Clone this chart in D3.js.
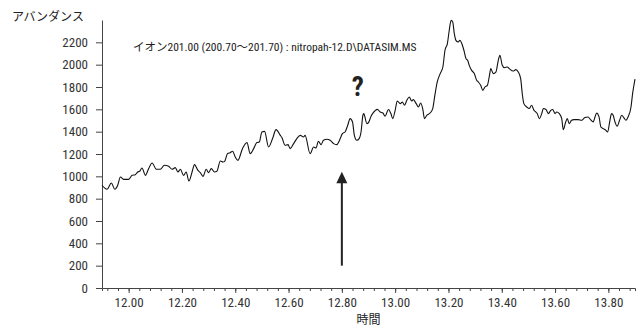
<!DOCTYPE html>
<html>

<head>
    <title>IonChromatogram</title>
    <script src="https://d3js.org/d3.v7.min.js"></script>
    <meta http-equiv="Content-Type" content="text/html; charset=utf-8">
    <style>
        body {
            margin: 0;
            background: #fff;
        }

        .tick text {
            font-family: "Roboto Condensed", "DejaVu Sans Condensed", "Liberation Sans Narrow", "Noto Sans CJK JP", sans-serif;
            font-stretch: condensed;
            font-size: 13px;
            fill: #333;
        }

        .axis path,
        .axis line {
            stroke: #444;
        }

        .jp {
            font-family: "Roboto Condensed", "DejaVu Sans Condensed", "Liberation Sans Narrow", "Noto Sans CJK JP", sans-serif;
            font-stretch: condensed;
            fill: #222;
        }
    </style>
</head>

<body>
    <svg></svg>
    <script>
        // data
        const scanTime = [
            11.900, 11.919, 11.935, 11.948, 11.959, 11.969, 11.981, 12.000, 12.013, 12.025,
            12.034, 12.041, 12.050, 12.063, 12.075, 12.088, 12.104, 12.119, 12.134, 12.150,
            12.163, 12.175, 12.185, 12.194, 12.206, 12.216, 12.226, 12.238, 12.247, 12.260,
            12.269, 12.279, 12.291, 12.300, 12.310, 12.322, 12.331, 12.344, 12.354, 12.360,
            12.371, 12.381, 12.390, 12.400, 12.410, 12.427, 12.444, 12.456, 12.469, 12.481,
            12.490, 12.500, 12.510, 12.525, 12.540, 12.553, 12.569, 12.575, 12.587, 12.598,
            12.606, 12.619, 12.631, 12.644, 12.656, 12.662, 12.681, 12.694, 12.703, 12.712,
            12.722, 12.731, 12.744, 12.756, 12.769, 12.781, 12.794, 12.802, 12.812, 12.822,
            12.831, 12.840, 12.847, 12.856, 12.865, 12.872, 12.879, 12.882, 12.894, 12.900,
            12.910, 12.918, 12.933, 12.944, 12.954, 12.962, 12.975, 12.984, 12.991, 13.000,
            13.008, 13.019, 13.027, 13.035, 13.044, 13.053, 13.062, 13.068, 13.079, 13.087,
            13.096, 13.104, 13.110, 13.119, 13.131, 13.141, 13.150, 13.158, 13.169, 13.179,
            13.187, 13.196, 13.203, 13.210, 13.216, 13.222, 13.228, 13.237, 13.243, 13.250,
            13.258, 13.266, 13.272, 13.278, 13.287, 13.297, 13.306, 13.312, 13.321, 13.329,
            13.337, 13.346, 13.353, 13.359, 13.368, 13.378, 13.387, 13.393, 13.402, 13.410,
            13.421, 13.428, 13.443, 13.453, 13.462, 13.471, 13.477, 13.483, 13.494, 13.503,
            13.512, 13.521, 13.528, 13.533, 13.541, 13.550, 13.556, 13.566, 13.575, 13.584,
            13.591, 13.600, 13.606, 13.616, 13.625, 13.631, 13.640, 13.646, 13.653, 13.662,
            13.671, 13.687, 13.700, 13.712, 13.724, 13.733, 13.743, 13.750, 13.756, 13.765,
            13.772, 13.781, 13.791, 13.797, 13.806, 13.812, 13.818, 13.825, 13.833, 13.843,
            13.850, 13.858, 13.866, 13.874, 13.885, 13.891, 13.897, 13.900
        ];
        const abundance = [
            920, 884, 940, 884, 920, 994, 973, 973, 1009, 1015,
            1039, 1045, 1075, 1009, 1069, 1120, 1063, 1063, 1099, 1090,
            1063, 1078, 1039, 1063, 1009, 1039, 958, 1039, 1105, 1054,
            1033, 1000, 1063, 1033, 1069, 1039, 1045, 1137, 1128, 1134,
            1203, 1212, 1224, 1173, 1143, 1248, 1302, 1203, 1248, 1302,
            1307, 1397, 1403, 1263, 1338, 1418, 1367, 1347, 1278, 1284,
            1248, 1293, 1338, 1367, 1352, 1367, 1203, 1263, 1254, 1314,
            1284, 1323, 1332, 1323, 1293, 1284, 1338, 1383, 1397, 1457,
            1517, 1487, 1367, 1323, 1338, 1397, 1547, 1562, 1472, 1481,
            1540, 1570, 1600, 1576, 1567, 1538, 1598, 1562, 1517, 1591,
            1675, 1651, 1666, 1636, 1681, 1711, 1675, 1687, 1651, 1621,
            1657, 1598, 1517, 1547, 1567, 1607, 1741, 1845, 1920, 1979,
            2129, 2189, 2308, 2397, 2382, 2278, 2218, 2203, 2218, 2189,
            2129, 2054, 2039, 1994, 1949, 1920, 1860, 1845, 1815, 1770,
            1800, 1815, 1890, 1965, 1920, 1934, 2039, 2084, 1994, 1973,
            1979, 1965, 1943, 1956, 1934, 1875, 1741, 1651, 1621, 1607,
            1636, 1591, 1576, 1562, 1517, 1562, 1607, 1598, 1562, 1591,
            1598, 1562, 1576, 1562, 1517, 1418, 1487, 1517, 1472, 1502,
            1508, 1508, 1502, 1526, 1532, 1508, 1487, 1532, 1567, 1532,
            1442, 1427, 1412, 1397, 1502, 1562, 1547, 1487, 1448, 1508,
            1547, 1526, 1502, 1532, 1621, 1741, 1830, 1870
        ];
        const xTicks = [12.0, 12.2, 12.4, 12.6, 12.8, 13.0, 13.2, 13.4, 13.6, 13.8];
        const xMinorTicks = d3.range(0, 50).map(i => +(11.92 + i * 0.04).toFixed(2));
        const yTicks = [0, 200, 400, 600, 800, 1000, 1200, 1400, 1600, 1800, 2000, 2200];
        const titleText = "イオン201.00 (200.70～201.70) : nitropah-12.D\\DATASIM.MS";
        const yLabel = "アバンダンス";
        const xLabel = "時間";
        // arrow marks 12.80 min, from 200 up to 1040
        const arrowAt = { t: 12.80, from: 200, to: 1040 };
        const questionAt = { t: 12.86, v: 1720 };

        // set the dimensions and margins
        const width = 644;
        const height = 329;
        const margin = {
            top: 20,
            right: 9,
            bottom: 41,
            left: 102
        };

        const svg = d3.select("svg")
            .attr("width", width)
            .attr("height", height);

        const data = scanTime.map((t, i) => ({ t: t, v: abundance[i] }));

        // scales
        const xScale = d3.scaleLinear()
            .domain([11.9, 13.9])
            .range([margin.left, width - margin.right]);
        const yScale = d3.scaleLinear()
            .domain([0, 2400])
            .range([height - margin.bottom, margin.top]);

        // minor ticks on x axis
        svg.append("g")
            .attr("class", "axis")
            .attr("transform", "translate(0," + (height - margin.bottom) + ")")
            .call(d3.axisBottom(xScale).tickValues(xMinorTicks).tickSize(3).tickFormat(""))
            .select(".domain").remove();

        // major x axis
        svg.append("g")
            .attr("class", "axis")
            .attr("transform", "translate(0," + (height - margin.bottom) + ")")
            .call(d3.axisBottom(xScale)
                .tickValues(xTicks)
                .tickSize(5)
                .tickSizeOuter(3)
                .tickPadding(5)
                .tickFormat(d3.format(".2f")));

        // y axis
        svg.append("g")
            .attr("class", "axis")
            .attr("transform", "translate(" + margin.left + ",0)")
            .call(d3.axisLeft(yScale)
                .tickValues(yTicks)
                .tickSize(6)
                .tickSizeOuter(0)
                .tickPadding(8)
                .tickFormat(d3.format("d")));

        // the chromatogram trace
        const line = d3.line()
            .x(d => xScale(d.t))
            .y(d => yScale(d.v))
            .curve(d3.curveMonotoneX);

        svg.append("path")
            .datum(data)
            .attr("fill", "none")
            .attr("stroke", "#111")
            .attr("stroke-width", 1.1)
            .attr("d", line);

        // arrow
        const ax = xScale(arrowAt.t);
        const tipY = yScale(arrowAt.to);
        svg.append("line")
            .attr("x1", ax)
            .attr("x2", ax)
            .attr("y1", yScale(arrowAt.from))
            .attr("y2", tipY + 10)
            .attr("stroke", "#222")
            .attr("stroke-width", 2);
        svg.append("path")
            .attr("d", `M${ax},${tipY} L${ax - 5.5},${tipY + 11.5} L${ax + 5.5},${tipY + 11.5} Z`)
            .attr("fill", "#222");

        // question mark
        svg.append("text")
            .attr("class", "jp")
            .attr("x", xScale(questionAt.t))
            .attr("y", yScale(questionAt.v))
            .attr("text-anchor", "middle")
            .style("font-size", "27px")
            .style("font-weight", "bold")
            .text("?");

        // labels
        svg.append("text")
            .attr("class", "jp")
            .attr("x", 133)
            .attr("y", 51)
            .style("font-size", "11.5px")
            .text(titleText);

        svg.append("text")
            .attr("class", "jp")
            .attr("x", 12)
            .attr("y", 21)
            .style("font-size", "12px")
            .text(yLabel);

        svg.append("text")
            .attr("class", "jp")
            .attr("x", (margin.left + width - margin.right) / 2)
            .attr("y", 324)
            .attr("text-anchor", "middle")
            .style("font-size", "12px")
            .text(xLabel);
    </script>
</body>

</html>
